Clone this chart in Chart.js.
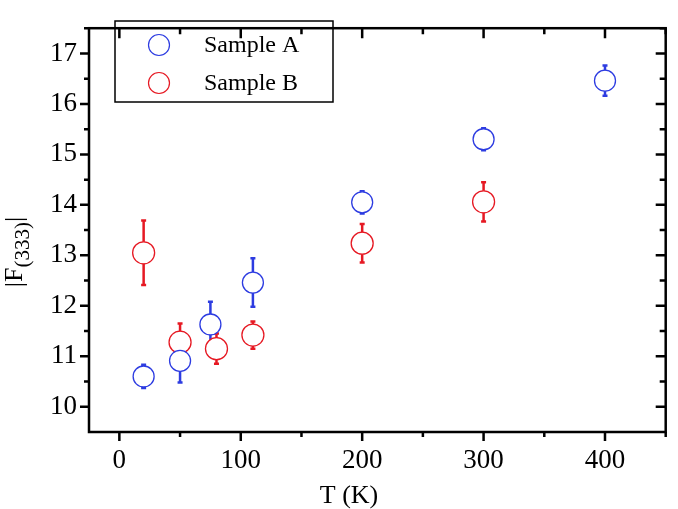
<!DOCTYPE html>
<html lang="en">
<head>
<meta charset="UTF-8">
<title>|F(333)| vs T</title>
<script src="https://cdn.jsdelivr.net/npm/chart.js@4.4.1/dist/chart.umd.min.js"></script>
<style>
    html, body { margin: 0; padding: 0; background: #fff; }
    #wrap { width: 678px; height: 509px; position: relative; }
</style>
</head>
<body>
<div id="wrap"><canvas id="grafica"></canvas></div>
<script>
// data
const tempA = [20, 50, 75, 110, 200, 300, 400];
const valA  = [10.6, 10.91, 11.63, 12.46, 14.05, 15.3, 16.46];
const errA  = [0.23, 0.43, 0.45, 0.48, 0.22, 0.22, 0.3];

const tempB = [20, 50, 80, 110, 200, 300];
const valB  = [13.05, 11.28, 11.15, 11.42, 13.24, 14.06];
const errB  = [0.64, 0.37, 0.3, 0.27, 0.38, 0.39];

const labels = ['Sample A', 'Sample B'];
const xTicks = [0, 100, 200, 300, 400];
const yTicks = [10, 11, 12, 13, 14, 15, 16, 17];

const blue = 'rgb(45,60,225)';
const red = 'rgb(230,25,35)';
const serif = '"Liberation Serif", "DejaVu Serif", serif';

function pts(xs, ys, es) {
    return xs.map((x, i) => ({ x: x, y: ys[i], e: es[i] }));
}

// error bars, drawn under the (white filled) circles
const errorBars = {
    id: 'errorBars',
    beforeDatasetsDraw(chart) {
        const ctx = chart.ctx;
        const xs = chart.scales.x, ys = chart.scales.y;
        chart.data.datasets.forEach(ds => {
            ctx.save();
            ctx.strokeStyle = ds.borderColor;
            ctx.lineWidth = 2.5;
            ds.data.forEach(p => {
                const px = xs.getPixelForValue(p.x);
                const top = ys.getPixelForValue(p.y + p.e);
                const bot = ys.getPixelForValue(p.y - p.e);
                ctx.beginPath();
                ctx.moveTo(px, top); ctx.lineTo(px, bot);
                ctx.moveTo(px - 2.5, top); ctx.lineTo(px + 2.5, top);
                ctx.moveTo(px - 2.5, bot); ctx.lineTo(px + 2.5, bot);
                ctx.stroke();
            });
            ctx.restore();
        });
    }
};

// frame, ticks (out on left/bottom, in on top/right), axis titles, legend
const frame = {
    id: 'frame',
    afterDraw(chart) {
        const ctx = chart.ctx;
        const a = chart.chartArea;
        const xs = chart.scales.x, ys = chart.scales.y;
        ctx.save();
        ctx.strokeStyle = '#000';
        ctx.lineWidth = 2.5;
        ctx.strokeRect(a.left, a.top, a.right - a.left, a.bottom - a.top);

        ctx.beginPath();
        for (let v = 0; v <= xs.max; v += 50) {
            const px = xs.getPixelForValue(v);
            const len = (v % 100 === 0) ? 9 : 5;
            ctx.moveTo(px, a.bottom); ctx.lineTo(px, a.bottom + len);
            ctx.moveTo(px, a.top); ctx.lineTo(px, a.top + len + 1);
        }
        for (let v = 10; v <= ys.max; v += 0.5) {
            const py = ys.getPixelForValue(v);
            const len = (v % 1 === 0) ? 9 : 5;
            ctx.moveTo(a.left, py); ctx.lineTo(a.left - len, py);
            ctx.moveTo(a.right, py); ctx.lineTo(a.right - len - 1, py);
        }
        ctx.stroke();

        // x title
        ctx.fillStyle = '#000';
        ctx.font = '26px ' + serif;
        ctx.textAlign = 'center';
        ctx.textBaseline = 'alphabetic';
        ctx.fillText('T (K)', 349, 503);

        // y title |F(333)|
        ctx.save();
        ctx.translate(22, 252);
        ctx.rotate(-Math.PI / 2);
        ctx.textAlign = 'left';
        const big = '26px ' + serif, small = '21px ' + serif;
        ctx.font = big; const w1 = ctx.measureText('|F').width;
        ctx.font = small; const w2 = ctx.measureText('(333)').width;
        ctx.font = big; const w3 = ctx.measureText('|').width;
        let x0 = -(w1 + w2 + w3) / 2;
        ctx.font = big; ctx.fillText('|F', x0, 0);
        ctx.font = small; ctx.fillText('(333)', x0 + w1, 7);
        ctx.font = big; ctx.fillText('|', x0 + w1 + w2, 0);
        ctx.restore();

        // legend
        ctx.lineWidth = 1.5;
        ctx.strokeRect(115, 21, 218, 81);
        ctx.font = '24px ' + serif;
        ctx.textAlign = 'left';
        ctx.textBaseline = 'middle';
        chart.data.datasets.forEach((ds, i) => {
            const cy = 45 + i * 38;
            ctx.beginPath();
            ctx.lineWidth = 1.2;
            ctx.strokeStyle = ds.borderColor;
            ctx.arc(159, cy, 10.5, 0, Math.PI * 2);
            ctx.stroke();
            ctx.fillStyle = '#000';
            ctx.fillText(ds.label, 204, cy + 1);
        });
        ctx.restore();
    }
};

new Chart(document.getElementById('grafica'), {
    type: 'scatter',
    data: {
        datasets: [
            {
                label: labels[0],
                data: pts(tempA, valA, errA),
                borderColor: blue,
                backgroundColor: '#fff',
                pointRadius: 10.5,
                pointBorderWidth: 1.3
            },
            {
                label: labels[1],
                data: pts(tempB, valB, errB),
                borderColor: red,
                backgroundColor: '#fff',
                pointRadius: 11,
                pointBorderWidth: 1.3
            }
        ]
    },
    options: {
        responsive: true,
        maintainAspectRatio: false,
        animation: false,
        layout: { padding: { left: 0, top: 2, right: 3, bottom: 0 } },
        plugins: {
            legend: { display: false },
            tooltip: { enabled: false }
        },
        scales: {
            x: {
                type: 'linear',
                min: -25,
                max: 450,
                grid: { display: false, drawTicks: false },
                border: { display: false },
                afterBuildTicks(s) { s.ticks = xTicks.map(v => ({ value: v })); },
                afterFit(s) { s.height = 77; },
                ticks: {
                    padding: 13,
                    color: '#000',
                    font: { family: serif, size: 27 },
                    maxRotation: 0,
                    autoSkip: false,
                    callback: v => String(v)
                }
            },
            y: {
                min: 9.5,
                max: 17.5,
                grid: { display: false, drawTicks: false },
                border: { display: false },
                afterBuildTicks(s) { s.ticks = yTicks.map(v => ({ value: v })); },
                afterFit(s) { s.width = 89; },
                ticks: {
                    padding: 12,
                    color: '#000',
                    autoSkip: false,
                    font: { family: serif, size: 27 },
                    callback: v => String(v)
                }
            }
        }
    },
    plugins: [errorBars, frame]
});
</script>
</body>
</html>
